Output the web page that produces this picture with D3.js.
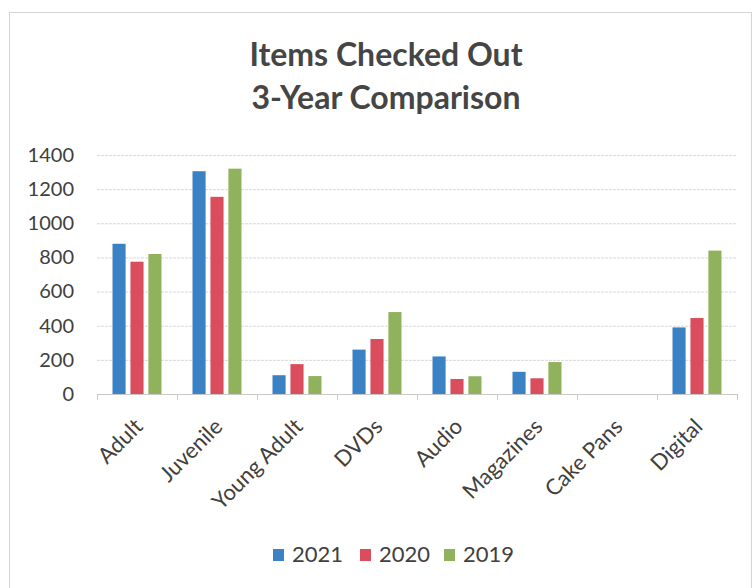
<!DOCTYPE html>
<html>
<head>
<meta charset="utf-8">
<script src="https://cdn.jsdelivr.net/npm/d3@7"></script>
<style>
  body { margin: 0; background: #fff; }
  #chart svg { display: block; font-family: Lato, "Open Sans", sans-serif; }
</style>
</head>
<body>
<div id="chart"></div>
<script>
var categories = ["Adult", "Juvenile", "Young Adult", "DVDs", "Audio", "Magazines", "Cake Pans", "Digital"];
var years = ["2021", "2020", "2019"];
var values2021 = [880, 1305, 110, 260, 220, 130, 0, 390];
var values2020 = [775, 1155, 175, 322, 88, 92, 0, 445];
var values2019 = [820, 1320, 105, 480, 104, 187, 0, 840];
var yTicks = [0, 200, 400, 600, 800, 1000, 1200, 1400];
var titleLines = ["Items Checked Out", "3-Year Comparison"];

var colors = { "2021": "#3b82c4", "2020": "#da4d5c", "2019": "#90b25c" };
var series = { "2021": values2021, "2020": values2020, "2019": values2019 };

var width = 754, height = 588;

var svg = d3.select("#chart").append("svg")
  .attr("width", width)
  .attr("height", height);

svg.append("rect")
  .attr("width", width).attr("height", height).attr("fill", "#fff");

// faint frame from the scan
svg.append("rect")
  .attr("x", 9.5).attr("y", 12.5)
  .attr("width", 742).attr("height", 600)
  .attr("fill", "none")
  .attr("stroke", "#d4d4d4");

/* Scales */
var x0 = d3.scaleBand().domain(categories).range([97, 737]).padding(0);
var x1 = d3.scaleBand().domain(years).range([15.5, 64.5]).paddingInner(0.27).paddingOuter(0);
var y = d3.scaleLinear().domain([0, 1400]).range([394, 155]);

/* Title */
svg.append("g").selectAll("text")
  .data(titleLines)
  .enter().append("text")
  .attr("x", 386)
  .attr("y", (d, i) => 66 + i * 43)
  .attr("text-anchor", "middle")
  .attr("font-size", "32px")
  .attr("font-weight", "bold")
  .attr("fill", "#454545")
  .text(d => d);

/* Gridlines */
svg.append("g").selectAll("line")
  .data(yTicks.filter(d => d > 0))
  .enter().append("line")
  .attr("x1", 97).attr("x2", 737)
  .attr("y1", d => y(d) + 0.5).attr("y2", d => y(d) + 0.5)
  .attr("stroke", "#d9d9d9")
  .attr("stroke-dasharray", "3,1");

/* Y axis labels */
var yAxis = d3.axisLeft(y).tickValues(yTicks).tickFormat(d3.format("d")).tickSize(0).tickPadding(0);
var gy = svg.append("g").attr("transform", "translate(74,0)").call(yAxis);
gy.select(".domain").remove();
gy.selectAll("text")
  .attr("font-size", "20px")
  .attr("font-family", "Lato, 'Open Sans', sans-serif")
  .attr("fill", "#404040");

/* Bars */
var groups = svg.append("g").selectAll("g")
  .data(categories)
  .enter().append("g")
  .attr("transform", d => `translate(${x0(d)},0)`);

groups.selectAll("rect")
  .data((c, i) => years.map(yr => ({ year: yr, value: series[yr][i] })))
  .enter().append("rect")
  .attr("x", d => x1(d.year))
  .attr("width", x1.bandwidth())
  .attr("y", d => y(d.value))
  .attr("height", d => y(0) - y(d.value))
  .attr("fill", d => colors[d.year]);

/* X axis line and boundary ticks */
var xa = svg.append("g");
xa.append("line")
  .attr("x1", 97).attr("x2", 737)
  .attr("y1", y(0) + 0.5).attr("y2", y(0) + 0.5)
  .attr("stroke", "#c8c8c8");
xa.selectAll(".tick")
  .data(categories.map(c => x0(c)).concat([x0.range()[1]]))
  .enter().append("line")
  .attr("x1", d => d + 0.5).attr("x2", d => d + 0.5)
  .attr("y1", y(0)).attr("y2", y(0) + 6)
  .attr("stroke", "#c8c8c8");

/* Category labels */
xa.selectAll("text")
  .data(categories)
  .enter().append("text")
  .attr("transform", d => `translate(${x0(d) + x0.bandwidth() / 2 + 7},${y(0) + 34}) rotate(-45)`)
  .attr("text-anchor", "end")
  .attr("font-size", "22px")
  .attr("fill", "#404040")
  .text(d => d);

/* Legend */
var legendX = [273, 360, 444];
var legend = svg.append("g").selectAll("g")
  .data(years)
  .enter().append("g")
  .attr("transform", (d, i) => `translate(${legendX[i]},549)`);
legend.append("rect")
  .attr("width", 11).attr("height", 12)
  .attr("fill", d => colors[d]);
legend.append("text")
  .attr("x", 19).attr("y", 13)
  .attr("font-size", "22px")
  .attr("fill", "#404040")
  .text(d => d);
</script>
</body>
</html>
